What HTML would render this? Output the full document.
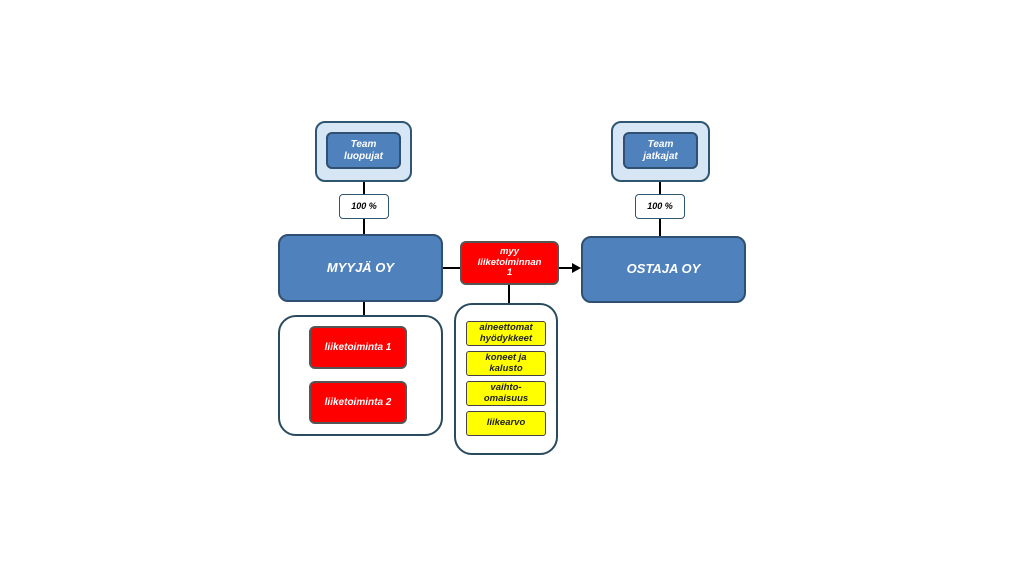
<!DOCTYPE html>
<html><head><meta charset="utf-8"><style>
body{margin:0;width:1024px;height:576px;background:#fff;position:relative;font-family:"Liberation Sans",sans-serif;overflow:hidden}
div{position:absolute;box-sizing:border-box}
.t{display:flex;align-items:center;justify-content:center;text-align:center;font-style:italic;font-weight:bold;line-height:1.15}
.outer{background:#d6e6f5;border:2px solid #2f5670;border-radius:10px}
.blue{background:#4f81bd;border:2px solid #2f5070;border-radius:6px;color:#fff}
.big{background:#4f81bd;border:2px solid #2f5070;border-radius:10px;color:#fff;font-size:13px}
.pct{background:#fff;border:1.5px solid #2f5670;border-radius:4px;font-size:9px;color:#000}
.red{background:#f00;border:2px solid #555;border-radius:6px;color:#fff;font-size:10px}
.yel{background:#ffff00;border:1.5px solid #444;border-radius:3px;color:#222;font-size:9.5px;left:466px;width:80px}
.grp{background:#fff;border:2px solid #2a4a60;border-radius:18px}
.l{background:#000}
</style></head><body>
<div class="l" style="left:363px;top:180px;width:2px;height:56px"></div>
<div class="l" style="left:659px;top:180px;width:2px;height:58px"></div>
<div class="l" style="left:363px;top:300px;width:2px;height:16px"></div>
<div class="l" style="left:442px;top:267px;width:136px;height:2px"></div>
<div style="left:572px;top:263px;width:0;height:0;border-left:9px solid #000;border-top:5px solid transparent;border-bottom:5px solid transparent"></div>
<div class="l" style="left:508px;top:284px;width:2px;height:20px"></div>

<div class="outer" style="left:315px;top:121px;width:97px;height:61px"></div>
<div class="t blue" style="left:326px;top:132px;width:75px;height:37px;font-size:10px">Team<br>luopujat</div>
<div class="outer" style="left:611px;top:121px;width:99px;height:61px"></div>
<div class="t blue" style="left:623px;top:132px;width:75px;height:37px;font-size:10px">Team<br>jatkajat</div>

<div class="t pct" style="left:339px;top:194px;width:50px;height:25px">100 %</div>
<div class="t pct" style="left:635px;top:194px;width:50px;height:25px">100 %</div>

<div class="t big" style="left:278px;top:234px;width:165px;height:68px">MYYJÄ OY</div>
<div class="t big" style="left:581px;top:236px;width:165px;height:67px">OSTAJA OY</div>
<div class="t red" style="left:460px;top:241px;width:99px;height:44px;font-size:9.5px">myy<br>liiketoiminnan<br>1</div>

<div class="grp" style="left:278px;top:315px;width:165px;height:121px"></div>
<div class="t red" style="left:309px;top:326px;width:98px;height:43px">liiketoiminta 1</div>
<div class="t red" style="left:309px;top:381px;width:98px;height:43px">liiketoiminta 2</div>

<div class="grp" style="left:454px;top:303px;width:104px;height:152px"></div>
<div class="t yel" style="top:321px;height:25px">aineettomat<br>hyödykkeet</div>
<div class="t yel" style="top:351px;height:25px">koneet ja<br>kalusto</div>
<div class="t yel" style="top:381px;height:25px">vaihto-<br>omaisuus</div>
<div class="t yel" style="top:411px;height:25px">liikearvo</div>
</body></html>
